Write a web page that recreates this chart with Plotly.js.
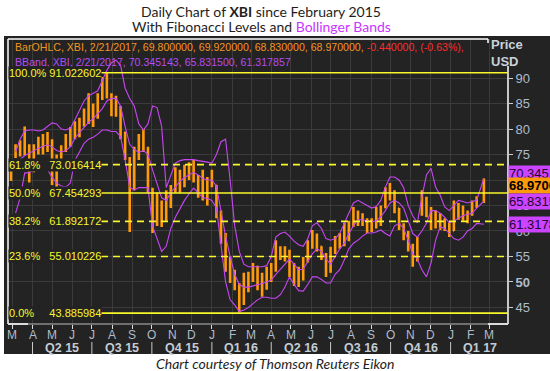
<!DOCTYPE html>
<html><head><meta charset="utf-8">
<script src="https://cdn.plot.ly/plotly-3.0.1.min.js"></script>
<style>html,body{margin:0;padding:0;background:#fff;}#chart{width:550px;height:371px;}</style>
</head><body><div id="chart"></div>
<script>
// ---- data (weekly OHLC) ----
const dates = ['2015-02-27','2015-03-06','2015-03-13','2015-03-20','2015-03-27','2015-04-03','2015-04-10','2015-04-17','2015-04-24','2015-05-01','2015-05-08','2015-05-15','2015-05-22','2015-05-29','2015-06-05','2015-06-12','2015-06-19','2015-06-26','2015-07-03','2015-07-10','2015-07-17','2015-07-24','2015-07-31','2015-08-07','2015-08-14','2015-08-21','2015-08-28','2015-09-04','2015-09-11','2015-09-18','2015-09-25','2015-10-02','2015-10-09','2015-10-16','2015-10-23','2015-10-30','2015-11-06','2015-11-13','2015-11-20','2015-11-27','2015-12-04','2015-12-11','2015-12-18','2015-12-25','2016-01-01','2016-01-08','2016-01-15','2016-01-22','2016-01-29','2016-02-05','2016-02-12','2016-02-19','2016-02-26','2016-03-04','2016-03-11','2016-03-18','2016-03-25','2016-04-01','2016-04-08','2016-04-15','2016-04-22','2016-04-29','2016-05-06','2016-05-13','2016-05-20','2016-05-27','2016-06-03','2016-06-10','2016-06-17','2016-06-24','2016-07-01','2016-07-08','2016-07-15','2016-07-22','2016-07-29','2016-08-05','2016-08-12','2016-08-19','2016-08-26','2016-09-02','2016-09-09','2016-09-16','2016-09-23','2016-09-30','2016-10-07','2016-10-14','2016-10-21','2016-10-28','2016-11-04','2016-11-11','2016-11-18','2016-11-25','2016-12-02','2016-12-09','2016-12-16','2016-12-23','2016-12-30','2017-01-06','2017-01-13','2017-01-20','2017-01-27','2017-02-03','2017-02-10','2017-02-21'];
const openP  = [70.5,74.8,76.0,75.5,76.5,72.0,76.0,77.5,76.0,77.0,71.0,74.5,76.0,78.5,79.0,80.5,81.0,83.5,83.0,84.0,86.0,89.0,86.5,85.0,84.0,79.0,74.0,71.0,74.5,78.5,76.0,68.0,63.0,65.0,62.0,67.0,68.0,71.5,69.0,72.0,72.5,70.5,68.0,69.0,70.0,69.0,63.0,58.0,54.0,52.0,49.0,46.0,50.0,51.5,53.0,50.0,49.0,51.0,52.5,56.0,55.5,56.0,52.5,51.0,50.5,54.0,57.0,59.0,57.0,55.0,52.0,56.0,58.0,59.0,60.5,61.5,63.5,62.5,62.0,60.5,62.0,62.0,64.5,68.0,67.0,64.5,61.0,59.5,57.0,54.5,64.0,66.0,64.0,61.5,63.0,61.0,61.5,60.0,65.0,63.5,63.0,63.5,65.5,66.5];
const highP  = [72.5,77.0,77.8,80.5,77.0,77.0,78.5,79.0,79.4,78.0,75.0,76.8,79.0,80.4,81.5,82.2,84.0,87.0,85.0,87.0,90.2,91.0,87.0,86.5,84.5,79.5,74.5,76.5,79.0,80.0,76.5,68.5,67.5,66.0,68.0,69.0,72.5,72.0,73.0,73.5,73.9,71.0,72.0,70.6,72.0,69.0,64.0,59.6,55.0,52.4,49.8,51.8,52.0,53.7,53.2,51.8,53.0,53.7,58.2,57.0,57.0,56.3,53.7,53.0,54.9,58.2,60.2,59.5,57.0,55.7,56.9,59.0,59.6,61.6,62.0,64.7,64.0,63.5,62.5,62.5,64.7,65.0,68.6,69.4,68.0,64.5,61.5,60.0,57.5,58.8,68.0,66.7,64.7,64.0,63.5,62.5,61.6,66.0,65.5,65.0,64.0,66.0,66.8,70.3];
const lowP   = [69.8,74.3,74.6,74.8,69.5,71.5,75.0,75.0,75.5,69.0,68.6,74.0,75.5,76.5,78.0,78.4,80.5,81.0,80.4,82.0,85.7,86.0,82.5,82.4,78.0,73.9,59.8,68.0,73.9,75.5,67.5,59.6,61.0,60.8,62.0,64.5,67.5,67.5,68.6,70.0,69.5,66.5,66.0,65.0,68.6,62.5,57.5,52.0,49.8,48.4,44.0,45.5,48.0,50.0,48.4,47.1,48.5,50.0,52.0,54.3,54.0,51.0,49.2,49.0,50.3,53.8,56.5,56.0,54.3,51.0,51.8,55.5,56.5,57.0,58.0,60.8,61.0,61.0,59.6,59.8,60.5,61.0,64.5,66.0,63.5,60.2,58.2,56.0,53.0,54.0,63.0,62.7,60.2,60.5,60.2,60.0,58.8,60.0,62.2,62.0,61.5,63.0,64.5,65.5];
const closeP = [71.5,76.0,75.5,77.0,71.0,76.0,77.5,76.0,78.5,71.0,74.0,76.0,78.5,79.0,80.5,81.0,83.5,83.0,84.0,86.0,89.0,86.5,85.0,84.0,79.0,74.5,71.0,74.5,78.5,77.0,68.5,63.0,65.0,62.0,67.0,68.0,71.5,69.0,72.0,72.5,70.5,68.0,69.0,70.0,69.5,63.0,58.0,54.0,52.0,49.0,46.0,50.0,51.5,53.0,50.0,49.0,51.0,52.5,56.0,55.5,56.0,52.5,51.0,50.5,54.0,57.0,59.0,57.0,55.0,52.0,56.0,58.0,59.0,60.5,61.5,63.5,62.5,62.0,60.5,62.0,62.0,64.5,68.0,67.0,64.5,61.0,59.5,57.0,54.0,57.5,66.0,64.0,61.5,63.0,61.0,61.5,59.5,65.0,63.5,63.0,63.5,65.5,66.5,68.97];
// Bollinger bands
const bbUpper  = [null,75.5,78.0,79.6,79.8,79.8,79.6,79.8,80.5,81.2,81.0,80.0,79.8,80.2,81.8,83.5,85.5,86.5,87.0,87.5,89.5,91.5,93.0,93.5,92.5,88.0,86.0,84.5,81.0,79.8,81.0,84.5,84.2,80.5,68.5,71.0,73.3,73.8,74.0,74.0,74.0,73.8,73.7,73.5,73.3,75.0,77.5,78.0,70.0,61.0,56.0,53.5,53.0,53.0,53.0,53.0,53.2,55.0,58.8,59.5,59.8,59.0,58.0,57.3,57.0,58.5,61.0,61.6,60.5,58.5,58.2,58.5,59.5,61.5,63.5,65.5,66.0,65.5,65.1,64.5,64.8,66.0,68.6,70.6,70.6,70.0,68.5,65.0,63.0,61.6,66.7,71.0,72.3,68.6,67.0,64.7,64.0,65.0,66.0,65.8,65.5,65.8,66.0,70.35];
const bbMiddle = [null,72.5,74.0,74.8,75.3,75.8,76.2,76.6,76.9,76.5,75.8,75.5,75.8,76.5,78.2,79.3,80.4,81.3,82.0,83.0,84.0,85.5,86.0,86.0,84.5,80.5,77.0,76.0,75.4,75.8,75.0,72.0,69.0,66.5,66.0,67.5,68.6,69.8,70.5,71.0,71.5,71.0,70.3,70.0,70.0,68.8,63.5,59.0,55.0,51.5,49.5,49.0,49.0,49.2,49.5,49.7,50.0,50.4,51.5,52.5,53.5,54.5,53.5,52.4,52.5,54.0,55.5,56.5,56.0,54.5,53.5,55.0,56.5,57.6,59.5,61.0,62.2,62.2,62.0,61.8,62.0,62.8,64.0,65.5,66.0,65.5,64.5,62.2,59.5,58.8,60.0,61.5,64.0,64.0,63.5,62.7,61.6,62.0,62.5,63.0,63.3,63.5,64.5,65.83];
const bbLower  = [null,63.5,66.5,71.4,71.4,72.0,72.2,72.2,72.0,70.5,69.4,68.8,68.6,69.4,73.9,75.5,77.2,78.0,78.4,79.0,79.8,79.8,79.5,79.5,78.5,74.0,68.6,68.0,68.5,68.5,68.5,61.0,58.5,56.0,57.0,60.5,62.7,64.5,66.0,67.3,68.4,67.5,66.5,66.4,66.0,64.5,57.0,50.0,46.5,45.5,44.2,44.5,45.0,45.8,46.5,47.0,47.0,46.8,46.8,47.5,49.0,51.0,49.5,48.3,48.2,49.5,51.0,51.0,50.5,49.8,49.8,51.5,52.4,54.3,56.5,57.6,58.2,59.0,59.6,59.6,59.8,60.2,59.5,59.0,61.0,61.5,60.5,58.2,55.5,54.5,52.4,51.0,53.7,58.2,60.8,60.5,59.6,58.5,58.2,58.8,60.0,60.5,61.5,61.32];
// Fibonacci levels
const fibPct = ['100.0%','61.8%','50.0%','38.2%','23.6%','0.0%'];
const fibVal = [91.022602,73.016414,67.454293,61.892172,55.010226,43.885984];
// last values shown at the right edge
const lastBBUpper = '70.345143', lastClose = '68.970000', lastBBMiddle = '65.831500', lastBBLower = '61.317857';
// axis ticks
const yTicks = [45,50,55,60,65,70,75,80,85,90];
const monthTicks = ['2015-03-01','2015-04-01','2015-05-01','2015-06-01','2015-07-01','2015-08-01','2015-09-01','2015-10-01','2015-11-01','2015-12-01','2016-01-01','2016-02-01','2016-03-01','2016-04-01','2016-05-01','2016-06-01','2016-07-01','2016-08-01','2016-09-01','2016-10-01','2016-11-01','2016-12-01','2017-01-01','2017-02-01','2017-03-01'];
const monthLabels = ['M','A','M','J','J','A','S','O','N','D','J','F','M','A','M','J','J','A','S','O','N','D','J','F','M'];
const quarterStarts = ['2015-04-01','2015-07-01','2015-10-01','2016-01-01','2016-04-01','2016-07-01','2016-10-01','2017-01-01','2017-04-01'];
const quarterLabels = ['Q2 15','Q3 15','Q4 15','Q1 16','Q2 16','Q3 16','Q4 16','Q1 17'];

// ---- style ----
const BG = '#232323', GRID = '#3b3b3b', ORANGE = '#ff9a0a', MAGENTA = '#c846f5', YEL = '#f8f82a';
const LBL = '#aebccc';
const W = 550, H = 371, L = 8, R = 42, T = 39, B = 47;
const pw = W - L - R, ph = H - T - B;
const px = v => (v - L) / pw;      // page x -> paper
const py = v => (H - B - v) / ph;  // page y -> paper

const traces = [
  {type:'ohlc', x:dates, open:openP, high:highP, low:lowP, close:closeP, tickwidth:0.15,
   increasing:{line:{color:ORANGE, width:2.6}}, decreasing:{line:{color:ORANGE, width:2.6}},
   hoverinfo:'skip', showlegend:false},
  {type:'scatter', mode:'lines', x:dates, y:bbUpper, line:{color:MAGENTA, width:1.1}, hoverinfo:'skip', showlegend:false},
  {type:'scatter', mode:'lines', x:dates, y:bbMiddle, line:{color:MAGENTA, width:1.1}, hoverinfo:'skip', showlegend:false},
  {type:'scatter', mode:'lines', x:dates, y:bbLower, line:{color:MAGENTA, width:1.1}, hoverinfo:'skip', showlegend:false}
];

const shapes = [
  {type:'rect', xref:'paper', yref:'paper', x0:px(4), x1:px(551), y0:py(354), y1:py(36), fillcolor:BG, line:{width:0}, layer:'below'},
  {type:'line', xref:'paper', yref:'paper', x0:0, x1:0, y0:0, y1:1, line:{color:'#ffffff', width:1.5}},
  {type:'line', xref:'paper', yref:'paper', x0:0, x1:px(488), y0:1, y1:1, line:{color:'#ffffff', width:1.5}},
  {type:'line', xref:'paper', yref:'paper', x0:px(488), x1:px(488), y0:1, y1:py(43), line:{color:'#ffffff', width:1.5}},
  {type:'line', xref:'paper', yref:'paper', x0:1, x1:1, y0:0, y1:py(66), line:{color:'#ffffff', width:1.5}},
  {type:'line', xref:'paper', yref:'paper', x0:0, x1:1, y0:0, y1:0, line:{color:'#8a8a8a', width:1.5}},
  {type:'line', xref:'paper', yref:'paper', x0:0, x1:px(28), y0:0, y1:0, line:{color:'#ffffff', width:1.5}},
  {type:'line', xref:'paper', yref:'paper', x0:px(488), x1:1, y0:0, y1:0, line:{color:'#ffffff', width:1.5}}
];
const solidLevels = ['100.0%','50.0%','0.0%'];
fibVal.forEach((v,i) => {
  shapes.push({type:'line', xref:'paper', yref:'y', x0:px(101), x1:1, y0:v, y1:v,
    line:{color:YEL, width:1.6, dash: solidLevels.includes(fibPct[i]) ? 'solid' : '7px,5px'}});
});
for (let i = 0; i < quarterStarts.length - 1; i++) {
  shapes.push({type:'line', xref:'x', yref:'paper', x0:quarterStarts[i], x1:quarterStarts[i], y0:py(342), y1:py(354), line:{color:'#c8c8c8', width:1}});
}

const FONT = 'Liberation Sans, Arial, sans-serif';
const annotations = [
  {xref:'paper', yref:'paper', x:px(261), y:py(12), xanchor:'center', yanchor:'middle', showarrow:false,
   text:'Daily Chart of <b>XBI</b> since February 2015', font:{family:'Lato, sans-serif', size:14, color:'#1e1e1e'}},
  {xref:'paper', yref:'paper', x:px(261), y:py(26.5), xanchor:'center', yanchor:'middle', showarrow:false,
   text:'With Fibonacci Levels and <span style="color:#cc33ff">Bollinger Bands</span>', font:{family:'Lato, sans-serif', size:14, color:'#1e1e1e'}},
  {xref:'paper', yref:'paper', x:px(275), y:py(363), xanchor:'center', yanchor:'middle', showarrow:false,
   text:'<i>Chart courtesy of Thomson Reuters Eikon</i>', font:{family:'Lato, sans-serif', size:14, color:'#1e1e1e'}},
  {xref:'paper', yref:'paper', x:px(13), y:py(47), xanchor:'left', yanchor:'middle', showarrow:false,
   text:'<span style="color:#f39420">BarOHLC, XBI, 2/21/2017, 69.800000, 69.920000, 68.830000, 68.970000, </span><span style="color:#ff2a2a">-0.440000, (-0.63%),</span>',
   font:{family:FONT, size:10.6, color:'#f39420'}},
  {xref:'paper', yref:'paper', x:px(13), y:py(62), xanchor:'left', yanchor:'middle', showarrow:false,
   text:'BBand, XBI, 2/21/2017, ' + lastBBUpper + ', ' + lastBBMiddle + ', ' + lastBBLower,
   font:{family:FONT, size:10.6, color:'#b54cf2'}},
  {xref:'paper', yref:'paper', x:px(489), y:py(53), xanchor:'left', yanchor:'middle', showarrow:false, align:'left',
   text:'<b>Price</b><br><b>USD</b>', font:{family:FONT, size:13, color:'#c9d2dc'}}
];
monthTicks.forEach((d,i) => {
  annotations.push({xref:'x', yref:'paper', x:d, y:py(335), xanchor:'center', yanchor:'middle', showarrow:false,
    text:monthLabels[i], font:{family:FONT, size:12, color:LBL}});
});
quarterLabels.forEach((q,i) => {
  const a = new Date(quarterStarts[i]).getTime(), b = new Date(quarterStarts[i+1]).getTime();
  annotations.push({xref:'x', yref:'paper', x:new Date((a+b)/2).toISOString().slice(0,10), y:py(348), xanchor:'center', yanchor:'middle',
    showarrow:false, text:'<b>' + q + '</b>', font:{family:FONT, size:12.5, color:'#c4ccd6'}});
});
const nb = '\u00a0';
const gapAfter = {'100.0%':1, '61.8%':3, '50.0%':3, '38.2%':3, '23.6%':3, '0.0%':5};
fibVal.forEach((v,i) => {
  annotations.push({xref:'paper', yref:'y', x:0, y:v, xanchor:'left', yanchor:'middle', showarrow:false,
    text: fibPct[i] + nb.repeat(gapAfter[fibPct[i]]) + v.toFixed(6), bgcolor:BG, borderpad:0,
    font:{family:FONT, size:11, color:YEL}});
});
const tags = [
  {t:lastBBUpper, y:bbUpper[bbUpper.length-1], bg:'#cc44ff', c:'#26062e', shift:4.5, bold:false},
  {t:lastClose, y:closeP[closeP.length-1], bg:'#ff9a0a', c:'#000000', shift:0, bold:true},
  {t:lastBBMiddle, y:bbMiddle[bbMiddle.length-1], bg:'#cc44ff', c:'#26062e', shift:0, bold:false},
  {t:lastBBLower, y:bbLower[bbLower.length-1], bg:'#cc44ff', c:'#26062e', shift:0, bold:false}
];
tags.forEach(g => {
  annotations.push({xref:'paper', yref:'y', x:1, y:g.y, yshift:g.shift, xanchor:'left', yanchor:'middle', showarrow:false,
    text: g.bold ? '<b>' + g.t + '</b>' : g.t, bgcolor:g.bg, borderpad:0, font:{family:FONT, size:13, color:g.c}});
});

const layout = {
  width:W, height:H, margin:{l:L, r:R, t:T, b:B, pad:0},
  paper_bgcolor:'#ffffff', plot_bgcolor:BG, showlegend:false,
  xaxis:{type:'date', range:['2015-02-22 10:00','2017-03-30'], tickvals:monthTicks, ticktext:monthLabels, showticklabels:false,
    showgrid:true, gridcolor:GRID, gridwidth:1, zeroline:false, showline:false,
    ticks:'outside', ticklen:4, tickcolor:'#dddddd',
    rangeslider:{visible:false}, fixedrange:true},
  yaxis:{side:'right', range:[41.76, 97.65], tickvals:yTicks, ticktext:yTicks.map(v => v===50 ? '<b>50</b>' : String(v)),
    showgrid:true, gridcolor:GRID, gridwidth:1, zeroline:false, showline:false,
    ticks:'outside', ticklen:4, tickcolor:'#cccccc', tickfont:{family:FONT, size:13, color:LBL}, fixedrange:true},
  shapes:shapes, annotations:annotations
};
Plotly.newPlot('chart', traces, layout, {displayModeBar:false, staticPlot:true});
</script></body></html>
